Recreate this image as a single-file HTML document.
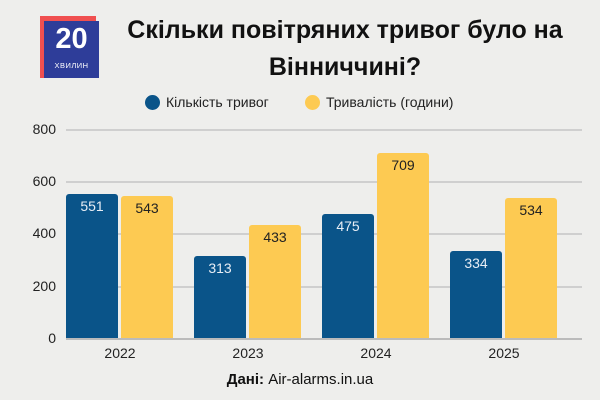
<!DOCTYPE html><html><head><meta charset="utf-8"><style>
body{margin:0;width:600px;height:400px;background:#eeeeec;font-family:"Liberation Sans",sans-serif;position:relative;overflow:hidden}
.a{position:absolute}
.g{position:absolute;left:66px;width:516px;height:1.5px;background:#cfcfcf}
.y{position:absolute;width:30px;text-align:right;left:26px;font-size:14px;color:#222}
.b{position:absolute;width:52px;border-radius:3px 3px 0 0;text-align:center;font-size:14px;padding-top:4px;box-sizing:border-box}
.bl{background:#0a5489;color:#e8eef5}.yl{background:#fdca52;color:#222}
.x{position:absolute;top:345px;width:80px;text-align:center;font-size:14px;color:#222}
</style></head><body>
<div class="a" style="left:40px;top:16px;width:56px;height:62px;background:#f05050"></div>
<div class="a" style="left:44px;top:21px;width:55px;height:57px;background:#2e3d99"></div>
<div class="a" style="left:44px;top:23px;width:55px;text-align:center;color:#fff;font-weight:bold;font-size:29px">20</div>
<div class="a" style="left:44px;top:61px;width:55px;text-align:center;color:#fff;font-size:7.5px;letter-spacing:.5px">ХВИЛИН</div>
<div class="a" style="left:105px;top:12px;width:480px;text-align:center;font-weight:bold;font-size:25px;line-height:37px;color:#111">Скільки повітряних тривог було на<br>Вінниччині?</div>
<div class="a" style="left:145px;top:95px;width:15px;height:15px;border-radius:50%;background:#0a5489"></div>
<div class="a" style="left:166px;top:94px;font-size:14px;color:#222">Кількість тривог</div>
<div class="a" style="left:305px;top:95px;width:15px;height:15px;border-radius:50%;background:#fdca52"></div>
<div class="a" style="left:326px;top:94px;font-size:14px;color:#222">Тривалість (години)</div>
<div class="g" style="top:129px"></div><div class="g" style="top:181px"></div><div class="g" style="top:233px"></div><div class="g" style="top:286px"></div><div class="g" style="top:338px;background:#bbb"></div>
<div class="y" style="top:121px">800</div><div class="y" style="top:173px">600</div><div class="y" style="top:225px">400</div><div class="y" style="top:278px">200</div><div class="y" style="top:330px">0</div>
<div class="b bl" style="left:66px;top:194px;height:144px">551</div>
<div class="b yl" style="left:121px;top:196px;height:142px">543</div>
<div class="b bl" style="left:194px;top:256px;height:82px">313</div>
<div class="b yl" style="left:249px;top:225px;height:113px">433</div>
<div class="b bl" style="left:322px;top:214px;height:124px">475</div>
<div class="b yl" style="left:377px;top:153px;height:185px">709</div>
<div class="b bl" style="left:450px;top:251px;height:87px">334</div>
<div class="b yl" style="left:505px;top:198px;height:140px">534</div>
<div class="x" style="left:80px">2022</div><div class="x" style="left:208px">2023</div><div class="x" style="left:336px">2024</div><div class="x" style="left:464px">2025</div>
<div class="a" style="left:0;width:600px;top:371px;text-align:center;font-size:15px;color:#111"><b>Дані:</b> Air-alarms.in.ua</div>
</body></html>
